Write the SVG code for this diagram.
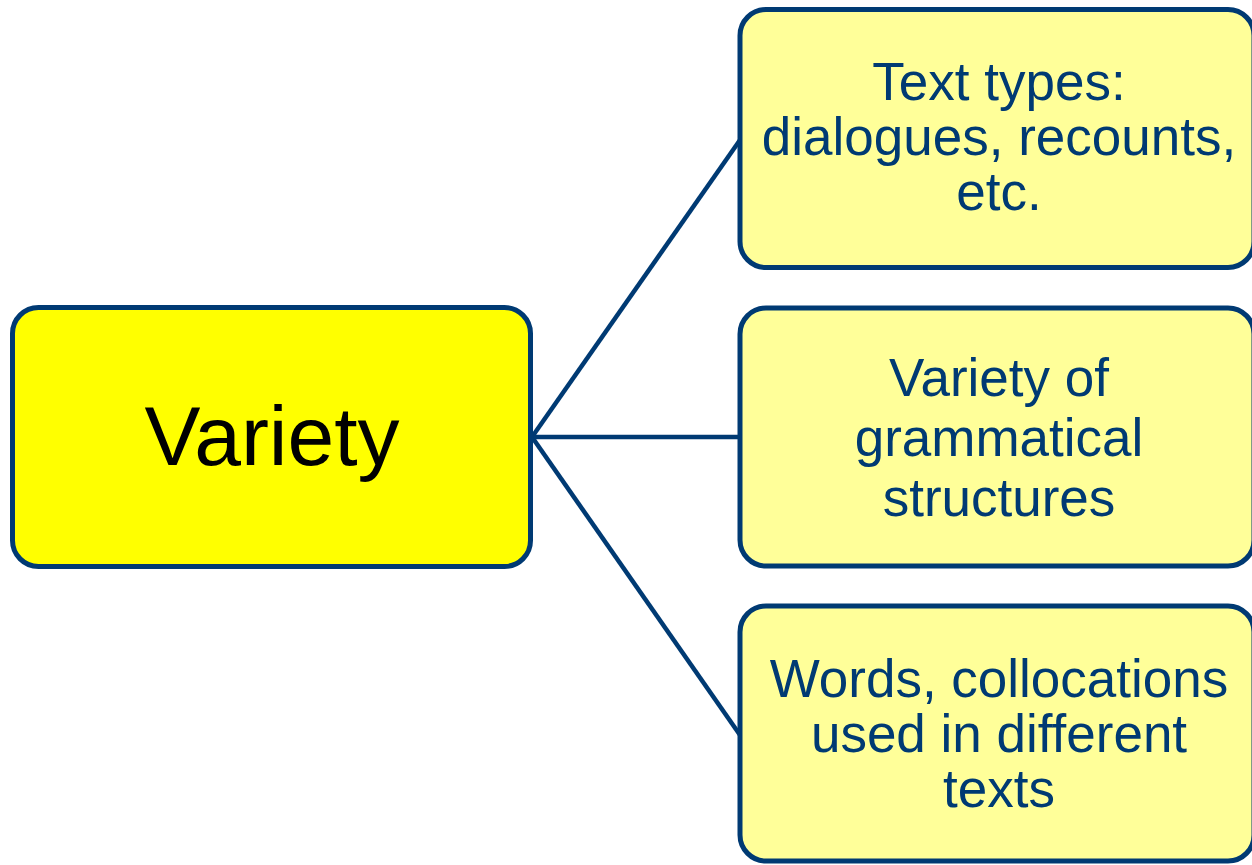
<svg xmlns="http://www.w3.org/2000/svg" width="1252" height="865" viewBox="0 0 1252 865">
<style>
.box{stroke:#003a73;stroke-width:5}
.main{fill:#ffff00}
.sub{fill:#ffff99}
.t{font-family:"Liberation Sans",Arial,sans-serif;text-anchor:middle}
.st{font-size:53px;fill:#003a73}
.conn{stroke:#003a73;stroke-width:4.5;fill:none}
</style>
<rect width="1252" height="865" fill="#ffffff"/>
<g id="connectors">
<line class="conn" x1="532" y1="437" x2="740" y2="140"/>
<line class="conn" x1="532" y1="437" x2="740" y2="437"/>
<line class="conn" x1="532" y1="437" x2="740" y2="735"/>
</g>
<g id="variety">
<rect class="box main" x="12.5" y="307.5" width="518" height="259" rx="26"/>
<text class="t" x="272" y="465" font-size="84" fill="#000000">Variety</text>
</g>
<g id="text-types">
<rect class="box sub" x="740" y="9.5" width="514" height="258" rx="26"/>
<text class="t st" x="999" y="100">Text types:</text>
<text class="t st" x="999" y="155">dialogues, recounts,</text>
<text class="t st" x="999" y="210">etc.</text>
</g>
<g id="grammar">
<rect class="box sub" x="740" y="308" width="514" height="258" rx="26"/>
<text class="t st" x="999" y="396">Variety of</text>
<text class="t st" x="999" y="456">grammatical</text>
<text class="t st" x="999" y="516">structures</text>
</g>
<g id="words">
<rect class="box sub" x="740" y="606" width="514" height="255" rx="26"/>
<text class="t st" x="999" y="697">Words, collocations</text>
<text class="t st" x="999" y="752">used in different</text>
<text class="t st" x="999" y="807">texts</text>
</g>
</svg>
